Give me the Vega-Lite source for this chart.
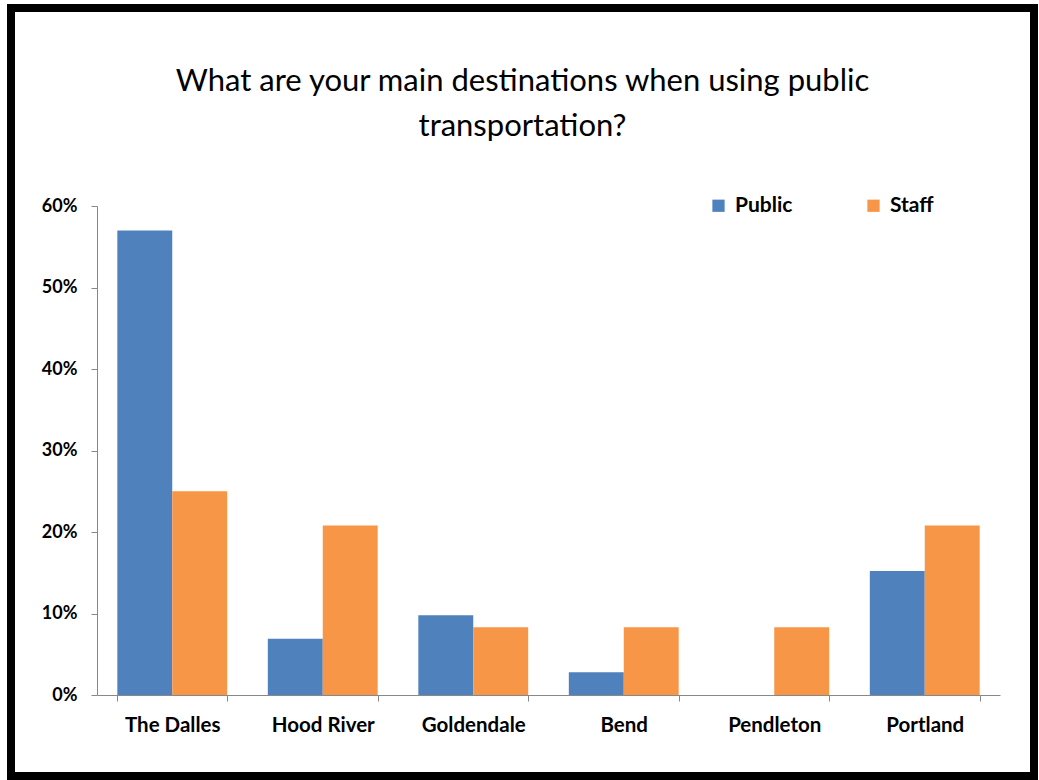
{
  "$schema": "https://vega.github.io/schema/vega-lite/v6.json",
  "width": 1023,
  "height": 768,
  "autosize": "none",
  "padding": {"left": 11, "top": 8, "right": 5, "bottom": 4},
  "background": "white",
  "title": {
    "text": ["What are your main destinations when using public", "transportation?"],
    "font": "Lato",
    "fontSize": 31,
    "fontWeight": "normal",
    "color": "#000000",
    "anchor": "middle",
    "frame": "group",
    "baseline": "alphabetic",
    "lineHeight": 45,
    "offset": -159
  },
  "data": {
    "values": [
      {"city": "The Dalles", "group": "Public", "value": 0.57},
      {"city": "The Dalles", "group": "Staff", "value": 0.25},
      {"city": "Hood River", "group": "Public", "value": 0.069},
      {"city": "Hood River", "group": "Staff", "value": 0.208},
      {"city": "Goldendale", "group": "Public", "value": 0.098},
      {"city": "Goldendale", "group": "Staff", "value": 0.083},
      {"city": "Bend", "group": "Public", "value": 0.028},
      {"city": "Bend", "group": "Staff", "value": 0.083},
      {"city": "Pendleton", "group": "Public", "value": 0},
      {"city": "Pendleton", "group": "Staff", "value": 0.083},
      {"city": "Portland", "group": "Public", "value": 0.152},
      {"city": "Portland", "group": "Staff", "value": 0.208}
    ]
  },
  "mark": {"type": "bar"},
  "encoding": {
    "x": {
      "field": "city",
      "type": "nominal",
      "sort": ["The Dalles", "Hood River", "Goldendale", "Bend", "Pendleton", "Portland"],
      "scale": {"range": [86, 989], "paddingInner": 0.27, "paddingOuter": 0.135},
      "axis": {
        "title": null,
        "orient": "bottom",
        "offset": -81,
        "labelAngle": 0,
        "labelFont": "Lato",
        "labelFontSize": 20.5,
        "labelFontWeight": "bold",
        "labelColor": "#000000",
        "labelPadding": 14,
        "tickBand": "extent",
        "tickSize": 6,
        "tickColor": "#888888",
        "domainColor": "#888888",
        "grid": false
      }
    },
    "xOffset": {
      "field": "group",
      "type": "nominal",
      "scale": {"paddingInner": 0, "paddingOuter": 0}
    },
    "y": {
      "field": "value",
      "type": "quantitative",
      "scale": {"domain": [0, 0.6], "range": [687, 198], "nice": false},
      "axis": {
        "title": null,
        "orient": "left",
        "offset": -86,
        "format": ".0%",
        "values": [0, 0.1, 0.2, 0.3, 0.4, 0.5, 0.6],
        "labelFont": "Lato",
        "labelFontSize": 18,
        "labelFontWeight": "bold",
        "labelColor": "#000000",
        "labelPadding": 14,
        "tickSize": 6,
        "tickColor": "#888888",
        "domainColor": "#888888",
        "grid": false
      }
    },
    "color": {
      "field": "group",
      "type": "nominal",
      "scale": {"domain": ["Public", "Staff"], "range": ["#4F81BD", "#F79646"]},
      "legend": {
        "title": null,
        "orient": "none",
        "legendX": 697,
        "legendY": 187,
        "direction": "horizontal",
        "symbolType": "square",
        "symbolSize": 150,
        "symbolStrokeWidth": 0,
        "symbolOpacity": 1,
        "labelFont": "Lato",
        "labelFontSize": 21,
        "labelFontWeight": "bold",
        "labelColor": "#000000",
        "labelOffset": 6,
        "columnPadding": 70
      }
    }
  },
  "config": {
    "view": {"stroke": "#000000", "strokeWidth": 8},
    "axis": {"domainWidth": 1, "tickWidth": 1}
  }
}
